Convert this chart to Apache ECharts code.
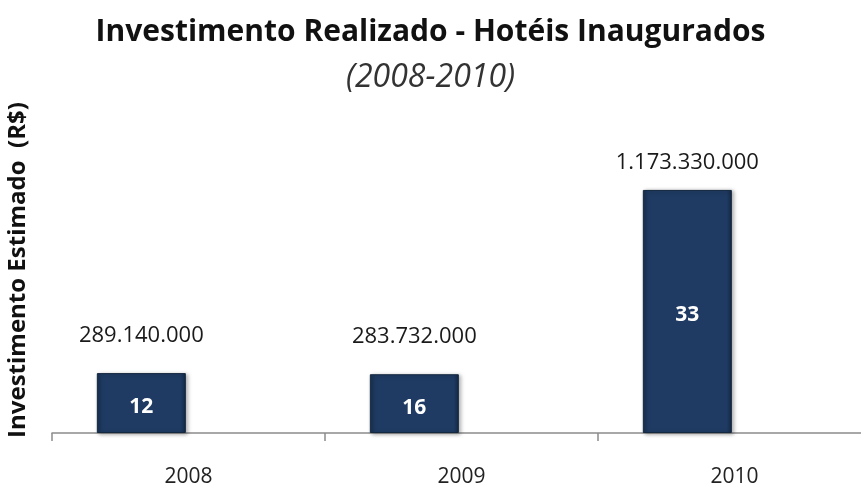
<!DOCTYPE html>
<html lang="pt">
    <head>
        <meta charset="utf-8">
        <title>Investimento Realizado - Hotéis Inaugurados</title>
        <style>
            html, body { margin: 0; padding: 0; background: #fff; }
            #grafico { width: 861px; height: 489px; }
        </style>
    </head>
    <body>
        <div id="grafico"></div>
        <script src="https://cdn.jsdelivr.net/npm/echarts@6/dist/echarts.min.js"></script>
        <script type="text/javascript">
            // dados
            var anos = ['2008', '2009', '2010'];
            var investimento = [289140000, 283732000, 1173330000];
            var hoteis = [12, 16, 33];

            var fonte = '"Open Sans", "Noto Sans", sans-serif';
            // distância do rótulo de valor até o topo da barra (px)
            var distRotulo = [26, 26, 16];

            // 289140000 -> 289.140.000
            function formataValor(v) {
                return String(v).replace(/\B(?=(\d{3})+(?!\d))/g, '.');
            }

            var myChart = echarts.init(document.getElementById('grafico'));

            var option = {
                animation: false,
                title: [{
                    text: 'Investimento Realizado - Hotéis Inaugurados',
                    left: 'center',
                    top: 12,
                    textStyle: {
                        fontFamily: fonte,
                        fontWeight: 'bold',
                        fontSize: 30,
                        color: '#111'
                    }
                }, {
                    text: '(2008-2010)',
                    left: 'center',
                    top: 57,
                    textStyle: {
                        fontFamily: fonte,
                        fontStyle: 'italic',
                        fontWeight: 'normal',
                        fontSize: 32,
                        color: '#333'
                    }
                }],
                grid: {
                    left: 52,
                    right: -10,
                    top: 143,
                    bottom: 56,
                    outerBoundsMode: 'none'
                },
                xAxis: {
                    type: 'category',
                    data: anos,
                    axisLine: {
                        lineStyle: { color: '#8c8c8c', width: 1.5 }
                    },
                    axisTick: {
                        show: true,
                        length: 8,
                        lineStyle: { color: '#8c8c8c', width: 1.5 }
                    },
                    axisLabel: {
                        margin: 34,
                        fontFamily: fonte,
                        fontSize: 21,
                        color: '#222'
                    }
                },
                yAxis: {
                    type: 'value',
                    min: 0,
                    max: 1400000000,
                    name: 'Investimento Estimado  (R$)',
                    nameLocation: 'middle',
                    nameGap: 22,
                    nameRotate: 90,
                    nameTextStyle: {
                        fontFamily: fonte,
                        fontWeight: 'bold',
                        fontSize: 24,
                        color: '#111',
                        padding: [0, 0, 0, 36]
                    },
                    axisLine: { show: false },
                    axisTick: { show: false },
                    axisLabel: { show: false },
                    splitLine: { show: false }
                },
                series: [{
                    name: 'Investimento',
                    type: 'bar',
                    stack: 'inv',
                    barWidth: 89,
                    data: investimento,
                    itemStyle: {
                        color: {
                            type: 'linear', x: 0, y: 0, x2: 1, y2: 0,
                            colorStops: [
                                { offset: 0, color: '#182f50' },
                                { offset: 0.06, color: '#1f3b63' },
                                { offset: 0.94, color: '#1f3b63' },
                                { offset: 1, color: '#152a47' }
                            ]
                        },
                        borderColor: '#14283f',
                        borderWidth: 1,
                        shadowColor: 'rgba(0,0,0,0.35)',
                        shadowBlur: 4,
                        shadowOffsetX: 2,
                        shadowOffsetY: 1
                    },
                    label: {
                        show: true,
                        position: 'inside',
                        offset: [0, 4],
                        fontFamily: fonte,
                        fontWeight: 'bold',
                        fontSize: 21,
                        color: '#fff',
                        formatter: function (p) {
                            return hoteis[p.dataIndex];
                        }
                    }
                }, {
                    // barra de altura zero só para o rótulo do valor em cima
                    name: 'Rotulo',
                    type: 'bar',
                    stack: 'inv',
                    barWidth: 89,
                    data: investimento.map(function (v, i) {
                        return { value: 0, label: { distance: distRotulo[i] } };
                    }),
                    itemStyle: { color: 'rgba(0,0,0,0)' },
                    label: {
                        show: true,
                        position: 'top',
                        fontFamily: fonte,
                        fontSize: 22,
                        color: '#1a1a1a',
                        formatter: function (p) {
                            return formataValor(investimento[p.dataIndex]);
                        }
                    }
                }, {
                    // série vazia: empurra as barras para a esquerda como no original
                    name: 'Espaco',
                    type: 'bar',
                    barWidth: 89,
                    barGap: '6%',
                    data: anos.map(function () { return '-'; })
                }]
            };
            myChart.setOption(option);
        </script>
    </body>
</html>
